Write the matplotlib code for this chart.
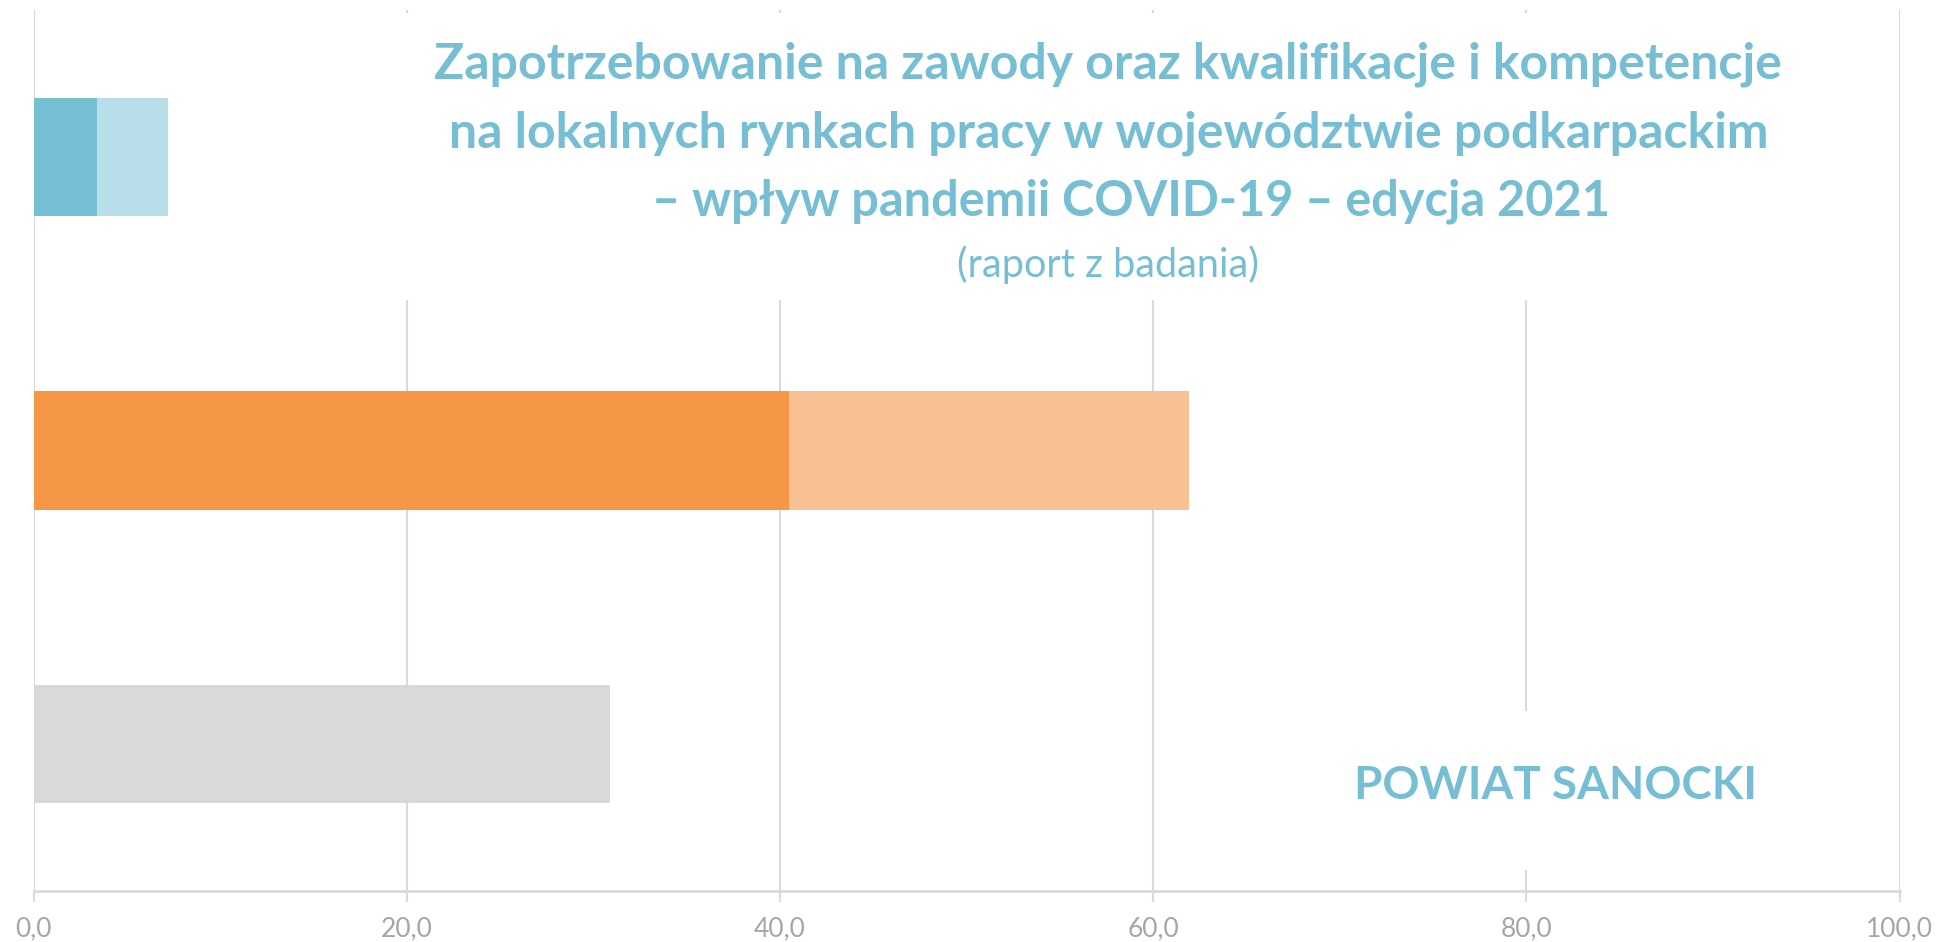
import matplotlib
matplotlib.use("Agg")
import matplotlib.pyplot as plt
from matplotlib.patches import Rectangle

# ---- data ----
categories = ["A", "B", "C"]
base_values = [3.4, 40.5, 30.9]
extra_values = [3.8, 21.4, 0.0]
base_colors = ["#75BFD4", "#F59745", "#D9D9D9"]
extra_colors = ["#B8DEE9", "#F8C194", "#EDEDED"]
tick_values = [0, 20, 40, 60, 80, 100]
tick_labels = ["0,0", "20,0", "40,0", "60,0", "80,0", "100,0"]
title_lines = [
    "Zapotrzebowanie na zawody oraz kwalifikacje i kompetencje",
    "na lokalnych rynkach pracy w województwie podkarpackim",
    "– wpływ pandemii COVID-19 – edycja 2021",
]
subtitle = "(raport z badania)"
region_label = "POWIAT SANOCKI"

W, H = 1957, 942
fig = plt.figure(figsize=(W / 100, H / 100), dpi=100)
ax = fig.add_axes([33.7 / W, 1 - 891 / H, (1899.6 - 33.7) / W, (891 - 10) / H])

ypos = list(range(len(categories)))
ax.barh(ypos, base_values, height=0.404, color=base_colors, zorder=2)
ax.barh(ypos, extra_values, left=base_values, height=0.404, color=extra_colors, zorder=2)

ax.set_xlim(0, 100)
ax.set_ylim(2.5, -0.5)
ax.set_yticks([])
ax.set_xticks(tick_values)
ax.set_xticklabels(tick_labels, fontsize=19, color="#A6A6A6", family="Lato")
ax.tick_params(axis="x", length=8, width=1.5, color="#D9D9D9", pad=10)
ax.grid(axis="x", color="#D9D9D9", linewidth=1.5)
ax.set_axisbelow(True)
for s in ["top", "right", "left"]:
    ax.spines[s].set_visible(False)
ax.spines["bottom"].set_color("#D9D9D9")
ax.spines["bottom"].set_linewidth(2)

# white boxes covering gridlines behind texts
ax.add_patch(Rectangle((0.186, 0.671), 0.653, 0.3255, transform=ax.transAxes,
                       facecolor="white", edgecolor="none", zorder=1))
ax.add_patch(Rectangle((0.705, 0.024), 0.23, 0.18, transform=ax.transAxes,
                       facecolor="white", edgecolor="none", zorder=1))

tcol = "#75BED3"
baselines = [78.6, 147, 216]
xcent = [1108, 1109, 1131]
sizes = [36, 36, 35]
for line, b, xc, fs in zip(title_lines, baselines, xcent, sizes):
    fig.text(xc / W, 1 - b / H, line, ha="center", va="baseline", fontsize=fs,
             fontweight="bold", color=tcol, family="Lato")
fig.text(1108 / W, 1 - 277 / H, subtitle, ha="center", va="baseline", fontsize=28.5,
         color=tcol, family="Lato")
fig.text(1555 / W, 1 - 799 / H, region_label, ha="center", va="baseline", fontsize=33,
         fontweight="bold", color=tcol, family="Lato")

fig.savefig("out.png", dpi=100, facecolor="white")
